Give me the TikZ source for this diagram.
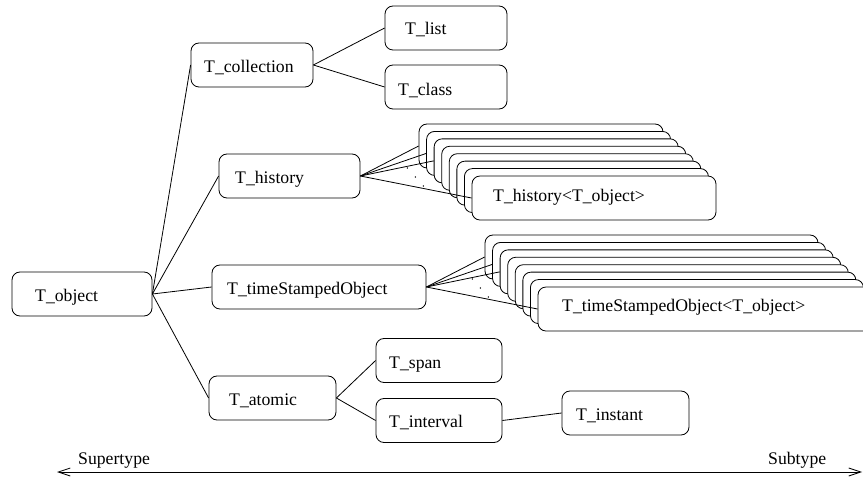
\documentclass[tikz,border=0pt]{standalone}
\usepackage{fontspec}
\setmainfont{Liberation Serif}
\usetikzlibrary{calc,arrows.meta}
\tikzset{
  box/.style={draw, rounded corners=8pt, line width=0.8pt, fill=white, inner sep=0pt, minimum height=44pt},
  lbl/.style={anchor=base west, inner sep=0pt, font=\fontsize{17.7}{20}\selectfont},
  link/.style={line width=0.8pt},
}
\begin{document}
\begin{tikzpicture}[x=1pt,y=-1pt]
\useasboundingbox (0,0) rectangle (863,481);
% main boxes
\node[box, minimum width=140pt] (obj) at (82,294) {};
\node[box, minimum width=122pt] (coll) at (252,65) {};
\node[box, minimum width=122pt] (list) at (446,28) {};
\node[box, minimum width=122pt] (class) at (446,87) {};
\node[box, minimum width=141pt] (hist) at (289.5,176) {};
\node[box, minimum width=214pt] (ts) at (319,287) {};
\node[box, minimum width=127pt] (atomic) at (272.5,398) {};
\node[box, minimum width=126pt] (span) at (439,360.5) {};
\node[box, minimum width=126pt] (interval) at (439,420.5) {};
\node[box, minimum width=127pt] (instant) at (625.5,413) {};
% stacks
\foreach \k in {0,...,7}{
  \node[box, minimum width=244pt] (h\k) at ({419+7.57*\k+122},{124+7.43*\k+22}) {};
}
\foreach \k in {0,...,7}{
  \node[box, minimum width=333pt] (t\k) at ({485+7.57*\k+166.5},{235+7.43*\k+22}) {};
}
% labels
\node[lbl] (objt) at (35,302) {T\_object};
\node[lbl] (collt) at (204,73) {T\_collection};
\node[lbl] (listt) at (405,35) {T\_list};
\node[lbl] (classt) at (398,96) {T\_class};
\node[lbl] (histt) at (235,184) {T\_history};
\node[lbl] (tst) at (227,295) {T\_timeStampedObject};
\node[lbl] (atomict) at (229,406) {T\_atomic};
\node[lbl] (spant) at (389,369) {T\_span};
\node[lbl] (intervalt) at (389,428) {T\_interval};
\node[lbl] (instantt) at (576,420) {T\_instant};
\node[lbl] (h7t) at (493,202) {T\_history\textless T\_object\textgreater};
\node[lbl] (t7t) at (562,312) {T\_timeStampedObject\textless T\_object\textgreater};
\node[lbl] (supt) at (78,464) {Supertype};
\node[lbl] (subt) at (768,464) {Subtype};
% connectors
\draw[link] (obj.east) -- (coll.west);
\draw[link] (obj.east) -- (hist.west);
\draw[link] (obj.east) -- (ts.west);
\draw[link] (obj.east) -- (atomic.west);
\draw[link] (coll.east) -- (list.west);
\draw[link] (coll.east) -- (class.west);
\draw[link] (atomic.east) -- (span.west);
\draw[link] (atomic.east) -- (interval.west);
\draw[link] (interval.east) -- (instant.west);
\foreach \k in {0,1,2,7}{
  \draw[link] (hist.east) -- (h\k.west);
  \draw[link] (ts.east) -- (t\k.west);
}
\foreach \dx/\dy in {47/-8,55/1,63/10}{
  \fill ($(hist.east)+(\dx,\dy)$) circle (0.8pt);
  \fill ($(ts.east)+(\dx-1,\dy)$) circle (0.8pt);
}
% axis arrow
\coordinate (L) at (57,472);
\coordinate (R) at (862,472);
\draw[link, {Straight Barb[length=12pt,width=8pt]}-{Straight Barb[length=12pt,width=8pt]}] (L) -- (R);
\end{tikzpicture}
\end{document}
